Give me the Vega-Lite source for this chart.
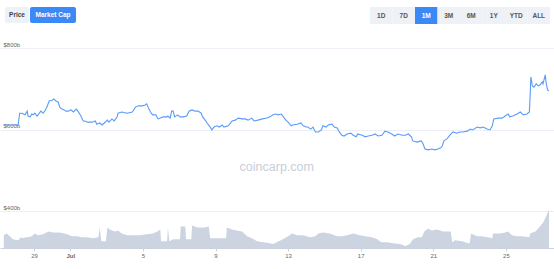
{
  "$schema": "https://vega.github.io/schema/vega-lite/v6.json",
  "padding": {"left": 0, "right": 0, "top": 7, "bottom": 0},
  "background": "white",
  "config": {"view": {"stroke": null}, "font": "Liberation Sans"},
  "datasets": {
    "cap": [
      {"t":"2021-06-27T08:00Z","v":611},{"t":"2021-06-28T03:00Z","v":611},{"t":"2021-06-28T05:00Z","v":640},{"t":"2021-06-28T08:00Z","v":640},
      {"t":"2021-06-28T12:00Z","v":636},{"t":"2021-06-28T15:00Z","v":645},{"t":"2021-06-28T16:00Z","v":633},{"t":"2021-06-28T19:00Z","v":631},
      {"t":"2021-06-28T21:00Z","v":638},{"t":"2021-06-28T23:00Z","v":636},{"t":"2021-06-29T01:00Z","v":640},{"t":"2021-06-29T04:00Z","v":633},
      {"t":"2021-06-29T07:00Z","v":640},{"t":"2021-06-29T09:00Z","v":645},{"t":"2021-06-29T12:00Z","v":640},{"t":"2021-06-29T15:00Z","v":648},
      {"t":"2021-06-29T17:00Z","v":655},{"t":"2021-06-29T20:00Z","v":670},{"t":"2021-06-30T00:00Z","v":672},{"t":"2021-06-30T02:00Z","v":675},
      {"t":"2021-06-30T05:00Z","v":670},{"t":"2021-06-30T08:00Z","v":667},{"t":"2021-06-30T10:00Z","v":655},{"t":"2021-06-30T13:00Z","v":650},
      {"t":"2021-06-30T16:00Z","v":648},{"t":"2021-06-30T18:00Z","v":645},{"t":"2021-06-30T21:00Z","v":645},{"t":"2021-07-01T01:00Z","v":648},
      {"t":"2021-07-01T04:00Z","v":643},{"t":"2021-07-01T08:00Z","v":650},{"t":"2021-07-01T10:00Z","v":645},{"t":"2021-07-01T14:00Z","v":633},
      {"t":"2021-07-01T17:00Z","v":621},{"t":"2021-07-01T19:00Z","v":621},{"t":"2021-07-01T23:00Z","v":618},{"t":"2021-07-02T05:00Z","v":618},
      {"t":"2021-07-02T09:00Z","v":621},{"t":"2021-07-02T11:00Z","v":613},{"t":"2021-07-02T15:00Z","v":616},{"t":"2021-07-02T18:00Z","v":611},
      {"t":"2021-07-02T21:00Z","v":616},{"t":"2021-07-03T01:00Z","v":623},{"t":"2021-07-03T03:00Z","v":618},{"t":"2021-07-03T07:00Z","v":626},
      {"t":"2021-07-03T10:00Z","v":621},{"t":"2021-07-03T14:00Z","v":631},{"t":"2021-07-03T15:00Z","v":640},{"t":"2021-07-03T20:00Z","v":643},
      {"t":"2021-07-04T03:00Z","v":640},{"t":"2021-07-04T10:00Z","v":643},{"t":"2021-07-04T14:00Z","v":655},{"t":"2021-07-04T18:00Z","v":658},
      {"t":"2021-07-04T23:00Z","v":658},{"t":"2021-07-05T03:00Z","v":660},{"t":"2021-07-05T05:00Z","v":663},{"t":"2021-07-05T08:00Z","v":650},
      {"t":"2021-07-05T11:00Z","v":640},{"t":"2021-07-05T13:00Z","v":636},{"t":"2021-07-05T17:00Z","v":636},{"t":"2021-07-05T20:00Z","v":626},
      {"t":"2021-07-05T23:00Z","v":628},{"t":"2021-07-06T03:00Z","v":631},{"t":"2021-07-06T08:00Z","v":631},{"t":"2021-07-06T09:00Z","v":633},
      {"t":"2021-07-06T12:00Z","v":628},{"t":"2021-07-06T14:00Z","v":645},{"t":"2021-07-06T16:00Z","v":645},{"t":"2021-07-06T18:00Z","v":631},
      {"t":"2021-07-06T22:00Z","v":636},{"t":"2021-07-07T01:00Z","v":631},{"t":"2021-07-07T05:00Z","v":631},{"t":"2021-07-07T10:00Z","v":633},
      {"t":"2021-07-07T13:00Z","v":645},{"t":"2021-07-07T17:00Z","v":648},{"t":"2021-07-07T21:00Z","v":645},{"t":"2021-07-08T01:00Z","v":645},
      {"t":"2021-07-08T05:00Z","v":640},{"t":"2021-07-08T07:00Z","v":631},{"t":"2021-07-08T11:00Z","v":621},{"t":"2021-07-08T14:00Z","v":613},
      {"t":"2021-07-08T17:00Z","v":606},{"t":"2021-07-08T19:00Z","v":599},{"t":"2021-07-08T22:00Z","v":606},{"t":"2021-07-09T02:00Z","v":609},
      {"t":"2021-07-09T05:00Z","v":606},{"t":"2021-07-09T09:00Z","v":611},{"t":"2021-07-09T11:00Z","v":606},{"t":"2021-07-09T17:00Z","v":609},
      {"t":"2021-07-09T22:00Z","v":621},{"t":"2021-07-10T02:00Z","v":623},{"t":"2021-07-10T06:00Z","v":628},{"t":"2021-07-10T11:00Z","v":626},
      {"t":"2021-07-10T15:00Z","v":626},{"t":"2021-07-10T19:00Z","v":623},{"t":"2021-07-11T00:00Z","v":628},{"t":"2021-07-11T03:00Z","v":621},
      {"t":"2021-07-11T08:00Z","v":623},{"t":"2021-07-11T14:00Z","v":626},{"t":"2021-07-11T20:00Z","v":628},{"t":"2021-07-12T00:00Z","v":631},
      {"t":"2021-07-12T04:00Z","v":636},{"t":"2021-07-12T08:00Z","v":638},{"t":"2021-07-12T11:00Z","v":636},{"t":"2021-07-12T15:00Z","v":638},
      {"t":"2021-07-12T17:00Z","v":633},{"t":"2021-07-12T21:00Z","v":623},{"t":"2021-07-13T00:00Z","v":618},{"t":"2021-07-13T04:00Z","v":609},
      {"t":"2021-07-13T06:00Z","v":611},{"t":"2021-07-13T12:00Z","v":613},{"t":"2021-07-13T17:00Z","v":616},{"t":"2021-07-13T20:00Z","v":609},
      {"t":"2021-07-14T00:00Z","v":606},{"t":"2021-07-14T02:00Z","v":606},{"t":"2021-07-14T06:00Z","v":601},{"t":"2021-07-14T09:00Z","v":606},
      {"t":"2021-07-14T12:00Z","v":594},{"t":"2021-07-14T16:00Z","v":594},{"t":"2021-07-14T20:00Z","v":599},{"t":"2021-07-14T22:00Z","v":609},
      {"t":"2021-07-15T02:00Z","v":606},{"t":"2021-07-15T05:00Z","v":611},{"t":"2021-07-15T10:00Z","v":613},{"t":"2021-07-15T13:00Z","v":606},
      {"t":"2021-07-15T17:00Z","v":604},{"t":"2021-07-15T19:00Z","v":596},{"t":"2021-07-15T23:00Z","v":586},{"t":"2021-07-16T02:00Z","v":584},
      {"t":"2021-07-16T06:00Z","v":589},{"t":"2021-07-16T11:00Z","v":591},{"t":"2021-07-16T14:00Z","v":586},{"t":"2021-07-16T18:00Z","v":582},
      {"t":"2021-07-16T20:00Z","v":589},{"t":"2021-07-17T02:00Z","v":586},{"t":"2021-07-17T06:00Z","v":582},{"t":"2021-07-17T10:00Z","v":584},
      {"t":"2021-07-17T15:00Z","v":586},{"t":"2021-07-17T19:00Z","v":589},{"t":"2021-07-17T23:00Z","v":584},{"t":"2021-07-18T04:00Z","v":586},
      {"t":"2021-07-18T08:00Z","v":596},{"t":"2021-07-18T12:00Z","v":594},{"t":"2021-07-18T17:00Z","v":589},{"t":"2021-07-18T21:00Z","v":584},
      {"t":"2021-07-19T01:00Z","v":589},{"t":"2021-07-19T07:00Z","v":586},{"t":"2021-07-19T11:00Z","v":586},{"t":"2021-07-19T15:00Z","v":589},
      {"t":"2021-07-19T19:00Z","v":582},{"t":"2021-07-19T21:00Z","v":572},{"t":"2021-07-20T02:00Z","v":569},{"t":"2021-07-20T08:00Z","v":572},
      {"t":"2021-07-20T10:00Z","v":567},{"t":"2021-07-20T13:00Z","v":552},{"t":"2021-07-20T17:00Z","v":550},{"t":"2021-07-20T22:00Z","v":552},
      {"t":"2021-07-21T02:00Z","v":550},{"t":"2021-07-21T06:00Z","v":552},{"t":"2021-07-21T10:00Z","v":555},{"t":"2021-07-21T12:00Z","v":560},
      {"t":"2021-07-21T14:00Z","v":572},{"t":"2021-07-21T18:00Z","v":577},{"t":"2021-07-21T22:00Z","v":586},{"t":"2021-07-22T02:00Z","v":594},
      {"t":"2021-07-22T07:00Z","v":591},{"t":"2021-07-22T11:00Z","v":594},{"t":"2021-07-22T15:00Z","v":594},{"t":"2021-07-22T21:00Z","v":596},
      {"t":"2021-07-23T01:00Z","v":601},{"t":"2021-07-23T04:00Z","v":599},{"t":"2021-07-23T10:00Z","v":606},{"t":"2021-07-23T14:00Z","v":604},
      {"t":"2021-07-23T18:00Z","v":606},{"t":"2021-07-23T23:00Z","v":601},{"t":"2021-07-24T03:00Z","v":599},{"t":"2021-07-24T06:00Z","v":609},
      {"t":"2021-07-24T08:00Z","v":626},{"t":"2021-07-24T14:00Z","v":628},{"t":"2021-07-24T19:00Z","v":628},{"t":"2021-07-24T23:00Z","v":633},
      {"t":"2021-07-25T03:00Z","v":638},{"t":"2021-07-25T05:00Z","v":631},{"t":"2021-07-25T09:00Z","v":633},{"t":"2021-07-25T15:00Z","v":638},
      {"t":"2021-07-25T19:00Z","v":643},{"t":"2021-07-25T23:00Z","v":636},{"t":"2021-07-26T04:00Z","v":638},{"t":"2021-07-26T07:00Z","v":643},
      {"t":"2021-07-26T08:00Z","v":680},{"t":"2021-07-26T09:00Z","v":729},{"t":"2021-07-26T11:00Z","v":707},{"t":"2021-07-26T13:00Z","v":704},
      {"t":"2021-07-26T16:00Z","v":712},{"t":"2021-07-26T19:00Z","v":707},{"t":"2021-07-26T21:00Z","v":709},{"t":"2021-07-27T00:00Z","v":717},
      {"t":"2021-07-27T01:00Z","v":712},{"t":"2021-07-27T04:00Z","v":734},{"t":"2021-07-27T05:00Z","v":717},{"t":"2021-07-27T07:00Z","v":697},
      {"t":"2021-07-27T09:00Z","v":695}
    ],
    "vol": [
      {"t":"2021-06-27T08:00Z","v":20},{"t":"2021-06-27T12:00Z","v":22.5},{"t":"2021-06-27T16:00Z","v":18},{"t":"2021-06-27T20:00Z","v":13.5},
      {"t":"2021-06-28T03:00Z","v":12},{"t":"2021-06-28T07:00Z","v":16.5},{"t":"2021-06-28T09:00Z","v":15},{"t":"2021-06-28T13:00Z","v":16.5},
      {"t":"2021-06-28T16:00Z","v":16.5},{"t":"2021-06-28T21:00Z","v":18},{"t":"2021-06-29T01:00Z","v":22.5},{"t":"2021-06-29T05:00Z","v":19.5},
      {"t":"2021-06-29T12:00Z","v":21},{"t":"2021-06-29T19:00Z","v":25.5},{"t":"2021-06-30T01:00Z","v":24},{"t":"2021-06-30T10:00Z","v":24},
      {"t":"2021-06-30T20:00Z","v":21},{"t":"2021-07-01T02:00Z","v":18},{"t":"2021-07-01T09:00Z","v":18},{"t":"2021-07-01T15:00Z","v":16.5},
      {"t":"2021-07-01T22:00Z","v":16.5},{"t":"2021-07-02T06:00Z","v":15},{"t":"2021-07-02T13:00Z","v":16.5},{"t":"2021-07-02T15:00Z","v":31.5},
      {"t":"2021-07-02T17:00Z","v":10.5},{"t":"2021-07-02T23:00Z","v":10.5},{"t":"2021-07-03T01:00Z","v":31.5},{"t":"2021-07-03T04:00Z","v":28.5},
      {"t":"2021-07-03T11:00Z","v":25.5},{"t":"2021-07-03T15:00Z","v":27},{"t":"2021-07-03T20:00Z","v":22.5},{"t":"2021-07-04T03:00Z","v":19.5},
      {"t":"2021-07-04T11:00Z","v":19.5},{"t":"2021-07-04T20:00Z","v":19.5},{"t":"2021-07-05T05:00Z","v":21},{"t":"2021-07-05T13:00Z","v":22.5},
      {"t":"2021-07-05T19:00Z","v":25.5},{"t":"2021-07-05T23:00Z","v":28.5},{"t":"2021-07-06T00:00Z","v":10.5},{"t":"2021-07-06T08:00Z","v":10.5},
      {"t":"2021-07-06T09:00Z","v":31.5},{"t":"2021-07-06T11:00Z","v":10.5},{"t":"2021-07-06T16:00Z","v":13.5},{"t":"2021-07-07T01:00Z","v":13.5},
      {"t":"2021-07-07T02:00Z","v":33},{"t":"2021-07-07T08:00Z","v":33},{"t":"2021-07-07T09:00Z","v":13.5},{"t":"2021-07-07T16:00Z","v":13.5},
      {"t":"2021-07-07T17:00Z","v":34.5},{"t":"2021-07-08T00:00Z","v":31.5},{"t":"2021-07-08T06:00Z","v":31.5},{"t":"2021-07-08T10:00Z","v":31.5},
      {"t":"2021-07-08T15:00Z","v":33},{"t":"2021-07-08T17:00Z","v":15},{"t":"2021-07-08T23:00Z","v":15},{"t":"2021-07-09T09:00Z","v":15},
      {"t":"2021-07-09T14:00Z","v":15},{"t":"2021-07-09T15:00Z","v":31.5},{"t":"2021-07-09T22:00Z","v":28.5},{"t":"2021-07-10T04:00Z","v":27},
      {"t":"2021-07-10T11:00Z","v":25.5},{"t":"2021-07-10T18:00Z","v":18},{"t":"2021-07-11T00:00Z","v":15},{"t":"2021-07-11T07:00Z","v":10.5},
      {"t":"2021-07-11T15:00Z","v":9},{"t":"2021-07-12T00:00Z","v":7.5},{"t":"2021-07-12T04:00Z","v":6},{"t":"2021-07-12T09:00Z","v":9},
      {"t":"2021-07-12T17:00Z","v":13.5},{"t":"2021-07-13T00:00Z","v":18},{"t":"2021-07-13T05:00Z","v":22.5},{"t":"2021-07-13T12:00Z","v":19.5},
      {"t":"2021-07-13T20:00Z","v":19.5},{"t":"2021-07-14T05:00Z","v":16.5},{"t":"2021-07-14T12:00Z","v":18},{"t":"2021-07-14T16:00Z","v":22.5},
      {"t":"2021-07-14T22:00Z","v":24},{"t":"2021-07-15T07:00Z","v":22.5},{"t":"2021-07-15T17:00Z","v":18},{"t":"2021-07-15T23:00Z","v":18},
      {"t":"2021-07-16T06:00Z","v":19.5},{"t":"2021-07-16T14:00Z","v":22.5},{"t":"2021-07-16T23:00Z","v":19.5},{"t":"2021-07-17T06:00Z","v":18},
      {"t":"2021-07-17T15:00Z","v":16.5},{"t":"2021-07-17T22:00Z","v":13.5},{"t":"2021-07-18T03:00Z","v":9},{"t":"2021-07-18T11:00Z","v":9},
      {"t":"2021-07-18T19:00Z","v":7.5},{"t":"2021-07-19T04:00Z","v":6},{"t":"2021-07-19T11:00Z","v":3},{"t":"2021-07-19T17:00Z","v":6},
      {"t":"2021-07-19T21:00Z","v":13.5},{"t":"2021-07-20T04:00Z","v":16.5},{"t":"2021-07-20T09:00Z","v":16.5},{"t":"2021-07-20T12:00Z","v":25.5},
      {"t":"2021-07-20T17:00Z","v":30},{"t":"2021-07-20T22:00Z","v":27},{"t":"2021-07-21T05:00Z","v":28.5},{"t":"2021-07-21T13:00Z","v":25.5},
      {"t":"2021-07-21T23:00Z","v":25.5},{"t":"2021-07-22T01:00Z","v":9},{"t":"2021-07-22T05:00Z","v":12},{"t":"2021-07-22T14:00Z","v":10.5},
      {"t":"2021-07-22T22:00Z","v":7.5},{"t":"2021-07-23T00:00Z","v":7.5},{"t":"2021-07-23T02:00Z","v":22.5},{"t":"2021-07-23T10:00Z","v":18},
      {"t":"2021-07-23T16:00Z","v":18},{"t":"2021-07-24T00:00Z","v":16.5},{"t":"2021-07-24T06:00Z","v":15},{"t":"2021-07-24T07:00Z","v":22.5},
      {"t":"2021-07-24T16:00Z","v":22.5},{"t":"2021-07-24T23:00Z","v":24},{"t":"2021-07-25T03:00Z","v":25.5},{"t":"2021-07-25T08:00Z","v":19.5},
      {"t":"2021-07-25T15:00Z","v":18},{"t":"2021-07-25T21:00Z","v":18},{"t":"2021-07-26T07:00Z","v":16.5},{"t":"2021-07-26T08:00Z","v":22.5},
      {"t":"2021-07-26T15:00Z","v":25.5},{"t":"2021-07-26T21:00Z","v":33},{"t":"2021-07-27T02:00Z","v":40.5},{"t":"2021-07-27T06:00Z","v":51},
      {"t":"2021-07-27T08:00Z","v":57},{"t":"2021-07-27T09:00Z","v":57}
    ]
  },
  "spacing": 17,
  "vconcat": [
    {
      "spacing": 294,
      "hconcat": [
        {
          "bounds": "flush",
          "spacing": 1,
          "hconcat": [
            {
              "width": 4, "height": 16,
              "data": {"values": [{"label": " "}]},
              "mark": {"type": "rect", "opacity": 0},
              "encoding": {"x": {"field": "label", "type": "nominal", "axis": null}}
            },
            {
              "width": 24, "height": 16,
              "data": {"values": [{"label": "Price", "selected": false}]},
              "layer": [
                {"mark": {"type": "rect", "cornerRadius": 2, "color": "#eef1f6"},
                 "encoding": {"x": {"field": "label", "type": "nominal", "axis": null, "scale": {"paddingInner": 0, "paddingOuter": 0}}}},
                {"mark": {"type": "text", "fontSize": 6.5, "fontWeight": "bold", "color": "#444", "font": "Liberation Sans"},
                 "encoding": {"x": {"field": "label", "type": "nominal", "axis": null}, "text": {"field": "label"}}}
              ]
            },
            {
              "width": 46, "height": 16,
              "data": {"values": [{"label": "Market Cap", "selected": true}]},
              "layer": [
                {"mark": {"type": "rect", "cornerRadius": 2, "color": "#3b89f7"},
                 "encoding": {"x": {"field": "label", "type": "nominal", "axis": null, "scale": {"paddingInner": 0, "paddingOuter": 0}}}},
                {"mark": {"type": "text", "fontSize": 6.5, "fontWeight": "bold", "color": "white", "font": "Liberation Sans"},
                 "encoding": {"x": {"field": "label", "type": "nominal", "axis": null}, "text": {"field": "label"}}}
              ]
            }
          ]
        },
        {
          "width": 180, "height": 17,
          "data": {"values": [
            {"label": "1D", "selected": false}, {"label": "7D", "selected": false}, {"label": "1M", "selected": true},
            {"label": "3M", "selected": false}, {"label": "6M", "selected": false}, {"label": "1Y", "selected": false},
            {"label": "YTD", "selected": false}, {"label": "ALL", "selected": false}
          ]},
          "layer": [
            {"mark": {"type": "rect"},
             "encoding": {
               "x": {"field": "label", "type": "nominal", "sort": null, "axis": null, "scale": {"paddingInner": 0, "paddingOuter": 0}},
               "color": {"condition": {"test": "datum.selected", "value": "#3b89f7"}, "value": "#eef1f6"}
             }},
            {"mark": {"type": "text", "fontSize": 6.5, "fontWeight": "bold", "font": "Liberation Sans"},
             "encoding": {
               "x": {"field": "label", "type": "nominal", "sort": null, "axis": null},
               "text": {"field": "label"},
               "color": {"condition": {"test": "datum.selected", "value": "white"}, "value": "#555"}
             }}
          ]
        }
      ]
    },
    {
      "bounds": "flush",
      "spacing": 0,
      "vconcat": [
        {
          "width": 554, "height": 163,
          "layer": [
            {
              "data": {"name": "cap"},
              "mark": {"type": "line", "color": "#5b9bf7", "strokeWidth": 1.1},
              "encoding": {
                "x": {"field": "t", "type": "temporal", "axis": null,
                      "scale": {"type": "utc", "domain": [{"year": 2021, "month": 6, "date": 27, "hours": 3, "utc": true}, {"year": 2021, "month": 7, "date": 27, "hours": 15, "minutes": 36, "utc": true}]}},
                "y": {"field": "v", "type": "quantitative",
                      "scale": {"domain": [400, 800], "nice": false, "zero": false},
                      "axis": {"values": [400, 600, 800], "grid": true, "gridColor": "#eceff5", "gridWidth": 1, "domain": false, "ticks": false, "tickSize": 0,
                               "labelAlign": "left", "labelBaseline": "alphabetic", "labelPadding": -3, "labelOffset": -2,
                               "labelExpr": "'$' + datum.value + 'b'", "labelFontSize": 6, "labelColor": "#666", "labelFont": "Liberation Sans", "title": null}}
              }
            },
            {
              "data": {"values": [{"label": "coincarp.com"}]},
              "mark": {"type": "text", "fontSize": 12.5, "color": "#c9ced7", "font": "Liberation Sans"},
              "encoding": {
                "x": {"datum": {"year": 2021, "month": 7, "date": 12, "hours": 9, "utc": true}, "type": "temporal"},
                "y": {"datum": 508, "type": "quantitative"},
                "text": {"field": "label"}
              }
            }
          ]
        },
        {
          "width": 554, "height": 37,
          "data": {"name": "vol"},
          "mark": {"type": "area", "color": "#cdd4e1", "opacity": 1},
          "encoding": {
            "x": {"field": "t", "type": "temporal",
                  "scale": {"type": "utc", "domain": [{"year": 2021, "month": 6, "date": 27, "hours": 3, "utc": true}, {"year": 2021, "month": 7, "date": 27, "hours": 15, "minutes": 36, "utc": true}]},
                  "axis": {"values": [
                      {"year": 2021, "month": 6, "date": 29, "utc": true}, {"year": 2021, "month": 7, "date": 1, "utc": true},
                      {"year": 2021, "month": 7, "date": 5, "utc": true}, {"year": 2021, "month": 7, "date": 9, "utc": true},
                      {"year": 2021, "month": 7, "date": 13, "utc": true}, {"year": 2021, "month": 7, "date": 17, "utc": true},
                      {"year": 2021, "month": 7, "date": 21, "utc": true}, {"year": 2021, "month": 7, "date": 25, "utc": true}],
                    "labelExpr": "utcdate(datum.value) == 1 ? 'Jul' : '' + utcdate(datum.value)",
                    "labelFontWeight": {"condition": {"test": "utcdate(datum.value) == 1", "value": "bold"}, "value": "normal"},
                    "grid": false, "domain": true, "domainColor": "#ccd2dc", "ticks": true, "tickSize": 3, "tickColor": "#ccd2dc",
                    "labelPadding": 1, "labelFontSize": 6, "labelColor": "#666", "labelFont": "Liberation Sans", "title": null, "labelFlush": false}},
            "y": {"field": "v", "type": "quantitative", "axis": null, "scale": {"domain": [0, 57], "nice": false}}
          }
        }
      ]
    }
  ]
}
